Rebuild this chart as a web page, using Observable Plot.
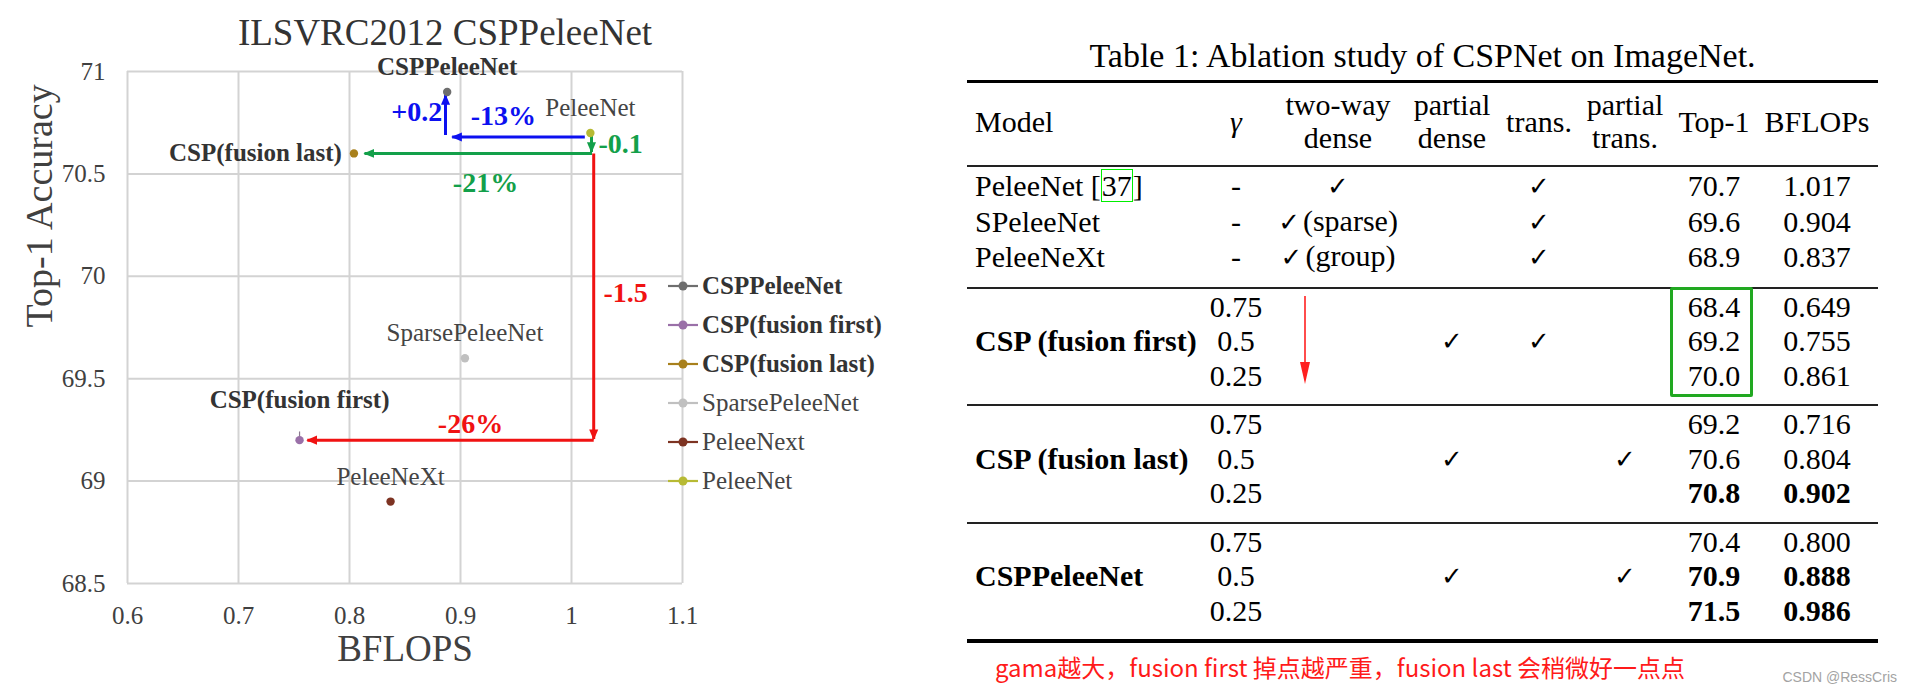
<!DOCTYPE html>
<html>
<head>
<meta charset="utf-8">
<script src="https://cdn.jsdelivr.net/npm/d3@7"></script>
<script src="https://cdn.jsdelivr.net/npm/@observablehq/plot@0.6"></script>
<style>
html, body { margin: 0; padding: 0; background: #fff; }
#root { position: relative; width: 1912px; height: 693px; overflow: hidden; background: #fff; }
#chart { position: absolute; left: 0; top: 0; }
#ctitle { position: absolute; left: 145px; top: 14px; width: 600px; text-align: center;
  font-family: "Liberation Serif", "Times New Roman", serif; font-size: 37px; line-height: 37px; color: #333; white-space: nowrap; }
#legend { position: absolute; left: 668px; top: 266px; font-family: "Liberation Serif", "Times New Roman", serif;
  font-size: 25px; color: #3a3a3a; }
#legend .item { height: 39px; line-height: 39px; display: flex; align-items: center; white-space: nowrap; }
#legend svg { display: block; margin-right: 4px; }
#ttitle { position: absolute; left: 967px; top: 36px; width: 911px; text-align: center;
  font-family: "Liberation Serif", "Times New Roman", serif; font-size: 34px; line-height: 40px; color: #000; white-space: nowrap; }
#tbl { position: absolute; left: 967px; top: 80px; width: 911px; border-collapse: collapse; table-layout: fixed;
  font-family: "Liberation Serif", "Times New Roman", serif; font-size: 30px; color: #000; }
#tbl thead { border-top: 3px solid #000; border-bottom: 2px solid #222; }
#tbl tbody { border-top: 2px solid #222; }
#tbl tbody.last { border-bottom: 4px solid #000; }
#tbl th { font-weight: normal; padding: 0 0 6px 0; height: 76px; line-height: 33px; vertical-align: middle; white-space: nowrap; }
#tbl td { padding: 0; line-height: 33.5px; height: 33.5px; white-space: nowrap; text-align: center; vertical-align: middle; }
#tbl tr.first td { padding-top: 1px; }
#tbl tr.lastrow td { padding-bottom: 12px; }
#tbl .model { text-align: left; padding-left: 8px; overflow: visible; }
#tbl .b { font-weight: bold; }
.chk { font-family: "DejaVu Sans", sans-serif; font-size: 26px; }
.ref { outline: 1.5px solid #00ee00; outline-offset: -1px; padding: 0 1px; }
#gbox { position: absolute; left: 1670px; top: 287px; width: 83px; height: 110px; box-sizing: border-box;
  border: 3px solid #21a821; border-radius: 2px; }
#tarrow { position: absolute; left: 1295px; top: 292px; }
#caption { position: absolute; left: 995px; top: 650px; font-family: "Noto Sans CJK SC", sans-serif; font-size: 24px;
  line-height: 34px; color: #ff1a1a; white-space: nowrap; }
#wm { position: absolute; right: 15px; top: 669px; font-family: "Liberation Sans", Arial, sans-serif; font-size: 14px;
  color: #a3a3a3; white-space: nowrap; }
</style>
</head>
<body>
<div id="root">
  <div id="chart"></div>
  <div id="ctitle"></div>
  <div id="legend"></div>
  <div id="ttitle"></div>
  <table id="tbl"></table>
  <div id="gbox"></div>
  <svg id="tarrow" width="20" height="100"></svg>
  <div id="caption"></div>
  <div id="wm"></div>
</div>
<script>
// ---------------- chart data ----------------
const chartTitle = "ILSVRC2012 CSPPeleeNet";
const xLabel = "BFLOPS";
const yLabel = "Top-1 Accuracy";
const models = ["CSPPeleeNet", "CSP(fusion first)", "CSP(fusion last)", "SparsePeleeNet", "PeleeNext", "PeleeNet"];
const pointLabels = ["CSPPeleeNet", "CSP(fusion first)", "CSP(fusion last)", "SparsePeleeNet", "PeleeNeXt", "PeleeNet"];
const bflops = [0.888, 0.755, 0.804, 0.904, 0.837, 1.017];
const top1 = [70.9, 69.2, 70.6, 69.6, 68.9, 70.7];
const errTop = [null, 69.24, null, null, null, null];
const xTicks = [0.6, 0.7, 0.8, 0.9, 1, 1.1];
const yTicks = [68.5, 69, 69.5, 70, 70.5, 71];

// annotation arrows (data units)
const arrowGroup = ["blue", "blue", "green", "green", "red", "red"];
const arrowX1 = [1.012, 0.8865, 1.018, 1.0185, 1.02, 1.02];
const arrowY1 = [70.68, 70.69, 70.69, 70.6, 70.6, 69.2];
const arrowX2 = [0.8925, 0.8865, 1.018, 0.8135, 1.02, 0.762];
const arrowY2 = [70.68, 70.885, 70.607, 70.6, 69.205, 69.2];

// annotation texts (data units)
const noteText = ["+0.2", "-13%", "-0.1", "-21%", "-1.5", "-26%"];
const noteGroup = ["blue", "blue", "green", "green", "red", "red"];
const noteAnchor = ["end", "middle", "start", "middle", "start", "middle"];
const noteX = [0.8836, 0.9387, 1.0243, 0.9225, 1.0288, 0.909];
const noteY = [70.80, 70.785, 70.644, 70.453, 69.916, 69.281];

// styles (kept apart from the data)
const seriesColors = ["#6e6e6e", "#9a70a8", "#a8801c", "#c0c0c0", "#7d3322", "#b7ba34"];
const groupColors = {blue: "#0c10f0", green: "#13a04a", red: "#f01212"};
const boldLabels = [true, true, true, false, false, false];

// ---------------- table data ----------------
const tableTitle = "Table 1: Ablation study of CSPNet on ImageNet.";
const headerLines = [["Model"], ["γ"], ["two-way", "dense"], ["partial", "dense"], ["trans."], ["partial", "trans."], ["Top-1"], ["BFLOPs"]];
const colWidths = [233, 72, 132, 96, 78, 94, 84, 122];
const baseModels = ["PeleeNet", "SPeleeNet", "PeleeNeXt"];
const baseTwoWay = ["", "(sparse)", "(group)"];
const baseTop1 = ["70.7", "69.6", "68.9"];
const baseBflops = ["1.017", "0.904", "0.837"];
const cspModels = ["CSP (fusion first)", "CSP (fusion last)", "CSPPeleeNet"];
const gammas = ["0.75", "0.5", "0.25"];
const cspPartialDense = [true, true, true];
const cspTrans = [true, false, false];
const cspPartialTrans = [false, true, true];
const cspTop1 = [["68.4", "69.2", "70.0"], ["69.2", "70.6", "70.8"], ["70.4", "70.9", "71.5"]];
const cspBflops = [["0.649", "0.755", "0.861"], ["0.716", "0.804", "0.902"], ["0.800", "0.888", "0.986"]];
const cspBold = [[false, false, false], [false, false, true], [false, true, true]];
const captionText = "gama越大，fusion first 掉点越严重，fusion last 会稍微好一点点";
const watermark = "CSDN @RessCris";

// ---------------- chart ----------------
const fmt = d => String(+(+d).toFixed(1));
const idx = d3.range(models.length);
const aidx = d3.range(arrowGroup.length);
const nidx = d3.range(noteText.length);

function solidArrow(color, context) {
  const doc = (context && context.document) || document;
  const ns = "http://www.w3.org/2000/svg";
  const m = doc.createElementNS(ns, "marker");
  m.setAttribute("viewBox", "0 -5 10 10");
  m.setAttribute("refX", "9");
  m.setAttribute("refY", "0");
  m.setAttribute("markerWidth", "3.6");
  m.setAttribute("markerHeight", "3.6");
  m.setAttribute("markerUnits", "strokeWidth");
  m.setAttribute("orient", "auto");
  const p = doc.createElementNS(ns, "path");
  p.setAttribute("d", "M0,-4.2L10,0L0,4.2Z");
  p.setAttribute("fill", color);
  p.setAttribute("stroke", "none");
  m.appendChild(p);
  return m;
}

const serif = "'Liberation Serif', 'Times New Roman', serif";
const arrowMarks = Object.keys(groupColors).map(g =>
  Plot.link(aidx, {
    filter: i => arrowGroup[i] === g,
    x1: i => arrowX1[i], y1: i => arrowY1[i], x2: i => arrowX2[i], y2: i => arrowY2[i],
    stroke: groupColors[g], strokeWidth: 3, markerEnd: solidArrow
  })
);
const noteMarks = [];
for (const g of Object.keys(groupColors)) {
  for (const a of ["start", "middle", "end"]) {
    noteMarks.push(Plot.text(nidx, {
      filter: i => noteGroup[i] === g && noteAnchor[i] === a,
      x: i => noteX[i], y: i => noteY[i], text: i => noteText[i],
      fill: groupColors[g], textAnchor: a, fontSize: 28, fontWeight: "bold", fontFamily: serif
    }));
  }
}
const labelOpts = (filter, extra) => ({
  filter, x: i => bflops[i], y: i => top1[i], text: i => pointLabels[i], fontSize: 25, fontFamily: serif, ...extra
});

const chart = Plot.plot({
  width: 760,
  height: 693,
  marginLeft: 127,
  marginRight: 78,
  marginTop: 71,
  marginBottom: 110,
  x: {domain: [0.6, 1.1]},
  y: {domain: [68.5, 71]},
  color: {domain: models, range: seriesColors},
  style: {fontFamily: serif, fontSize: "25px", color: "#404040", background: "transparent", overflow: "visible"},
  marks: [
    Plot.gridX({ticks: xTicks, stroke: "#d3d3d3", strokeOpacity: 1, strokeWidth: 2}),
    Plot.gridY({ticks: yTicks, stroke: "#d3d3d3", strokeOpacity: 1, strokeWidth: 2}),
    Plot.axisX({ticks: xTicks, tickSize: 0, tickPadding: 23, tickFormat: fmt, fontSize: 25, label: null}),
    Plot.axisY({ticks: yTicks, tickSize: 0, tickPadding: 22, tickFormat: fmt, fontSize: 25, label: null}),
    Plot.text([xLabel], {frameAnchor: "bottom", dy: 77, fontSize: 37, fill: "#404040", fontFamily: serif}),
    Plot.text([yLabel], {frameAnchor: "left", dx: -88, rotate: -90, fontSize: 38, fill: "#404040", fontFamily: serif}),
    ...arrowMarks,
    Plot.ruleX(idx, {filter: i => errTop[i] != null, x: i => bflops[i], y1: i => top1[i], y2: i => errTop[i], stroke: "#8a7a90", strokeWidth: 1.2}),
    Plot.dot(idx, {x: i => bflops[i], y: i => top1[i], fill: i => models[i], r: 4.2}),
    // labels above the points
    Plot.text(idx, labelOpts(i => i === 0, {dy: -25, fontWeight: "bold", fill: "#333"})),
    Plot.text(idx, labelOpts(i => i >= 3, {dy: -25, fontWeight: "normal", fill: "#444"})),
    Plot.text(idx, labelOpts(i => i === 1, {dy: -40, fontWeight: "bold", fill: "#333"})),
    Plot.text(idx, labelOpts(i => i === 2, {dx: -12, textAnchor: "end", fontWeight: "bold", fill: "#333"})),
    ...noteMarks
  ]
});
document.getElementById("chart").appendChild(chart);
document.getElementById("ctitle").textContent = chartTitle;

// ---------------- legend ----------------
const legend = d3.select("#legend");
models.forEach((m, i) => {
  const it = legend.append("div").attr("class", "item");
  const s = it.append("svg").attr("width", 30).attr("height", 12);
  s.append("line").attr("x1", 0).attr("x2", 30).attr("y1", 6).attr("y2", 6)
    .attr("stroke", seriesColors[i]).attr("stroke-width", 2.2);
  s.append("circle").attr("cx", 15).attr("cy", 6).attr("r", 4.5).attr("fill", seriesColors[i]);
  it.append("span").text(m).style("font-weight", boldLabels[i] ? "bold" : "normal")
    .style("color", boldLabels[i] ? "#333" : "#444");
});

// ---------------- table ----------------
document.getElementById("ttitle").textContent = tableTitle;
const tbl = d3.select("#tbl");
const cg = tbl.append("colgroup");
colWidths.forEach(w => cg.append("col").style("width", w + "px"));
const hr = tbl.append("thead").append("tr");
headerLines.forEach((lines, c) => {
  const th = hr.append("th").style("text-align", c === 0 ? "left" : "center").style("padding-left", c === 0 ? "8px" : "0");
  lines.forEach((l, k) => {
    if (k) th.append("br");
    const sp = th.append("span").text(l);
    if (l === "γ") sp.style("font-style", "italic");
  });
});
function check(td, extra) {
  td.append("span").attr("class", "chk").text("✓");
  if (extra) td.append("span").text(extra).style("margin-left", "3px");
}
// base group
const tb0 = tbl.append("tbody");
baseModels.forEach((m, r) => {
  const tr = tb0.append("tr").attr("class", r === 0 ? "first" : (r === 2 ? "lastrow" : ""));
  const tdm = tr.append("td").attr("class", "model");
  if (r === 0) {
    tdm.append("span").text(m + " [");
    tdm.append("span").attr("class", "ref").text("37");
    tdm.append("span").text("]");
  } else tdm.text(m);
  tr.append("td").text("-");
  check(tr.append("td"), baseTwoWay[r]);
  tr.append("td");
  check(tr.append("td"));
  tr.append("td");
  tr.append("td").text(baseTop1[r]);
  tr.append("td").text(baseBflops[r]);
});
// CSP groups
cspModels.forEach((m, g) => {
  const tb = tbl.append("tbody").attr("class", g === cspModels.length - 1 ? "last" : "");
  gammas.forEach((gm, r) => {
    const tr = tb.append("tr").attr("class", r === 0 ? "first" : (r === 2 ? "lastrow" : ""));
    tr.append("td").attr("class", "model b").text(r === 1 ? m : "");
    tr.append("td").text(gm);
    tr.append("td");
    const pd = tr.append("td"); if (r === 1 && cspPartialDense[g]) check(pd);
    const tt = tr.append("td"); if (r === 1 && cspTrans[g]) check(tt);
    const pt = tr.append("td"); if (r === 1 && cspPartialTrans[g]) check(pt);
    tr.append("td").text(cspTop1[g][r]).classed("b", cspBold[g][r]);
    tr.append("td").text(cspBflops[g][r]).classed("b", cspBold[g][r]);
  });
});
// red arrow in the table
const ta = d3.select("#tarrow");
ta.append("line").attr("x1", 10).attr("x2", 10).attr("y1", 4).attr("y2", 78).attr("stroke", "#ff2020").attr("stroke-width", 1.6);
ta.append("path").attr("d", "M5,70L15,70L10,92Z").attr("fill", "#ff2020");

document.getElementById("caption").textContent = captionText;
document.getElementById("wm").textContent = watermark;
</script>
</body>
</html>
